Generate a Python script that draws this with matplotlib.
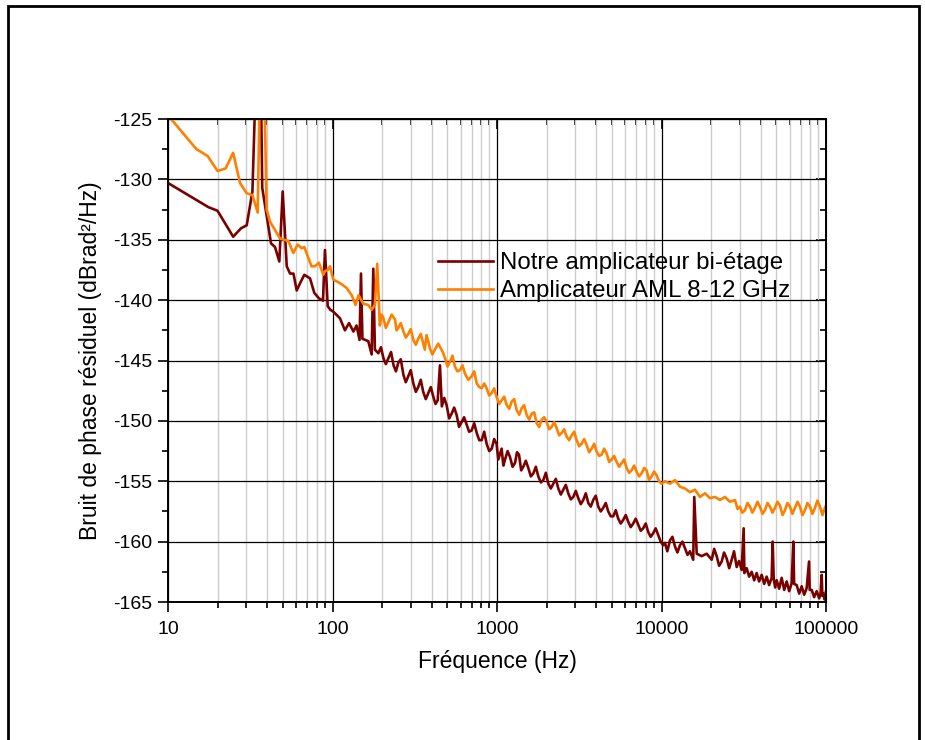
import matplotlib
matplotlib.use("Agg")
import matplotlib.pyplot as plt
import numpy as np
from matplotlib.patches import Rectangle
from matplotlib.ticker import FixedLocator, MultipleLocator, NullFormatter

# Notre amplicateur bi-étage (dark red)
freq_a = [10, 17.6, 20.0, 24.9, 27.8, 30.1, 32.6, 34.3, 36.6, 37.4, 42.3, 44.7, 47.5, 49.8,
          52.7, 55.2, 57.9, 60.6, 63.5, 67.4, 73.0, 77.5, 82.7, 87.5, 90.0, 93.5, 97, 101,
          111, 119, 126, 134, 140, 146, 149, 152, 165, 173, 177, 181, 190, 204, 219, 235,
          251, 270, 289, 310, 332, 356, 382, 410, 436, 450, 462, 494, 530, 568, 609, 654,
          701, 753, 807, 865, 929, 994, 1018, 1067, 1119, 1200, 1286, 1361, 1445, 1550,
          1663, 1783, 1913, 2051, 2199, 2359, 2529, 2712, 2909, 3119, 3346, 3588, 3847,
          4126, 4424, 4745, 5089, 5457, 5852, 6276, 6730, 7218, 7740, 8300, 8902, 9546,
          10240, 10500, 11260, 12080, 12950, 13890, 14900, 15590, 15820, 16370, 17550,
          18820, 20190, 20900, 21650, 22400, 23220, 24000, 24900, 25800, 26710, 27600,
          28640, 29600, 30720, 31580, 31900, 32940, 34100, 35330, 36600, 37890, 39200,
          40640, 42100, 43590, 45100, 46750, 47400, 48100, 49100, 50140, 51900, 53770,
          55700, 57670, 59700, 61850, 63300, 64000, 66340, 68700, 71150, 73700, 76310,
          78850, 79600, 81840, 84700, 87770, 90900, 92800, 94140, 95000, 96350, 98200,
          100000]
level_a = [-130.3, -132.3, -132.6, -134.75, -134.05, -133.8, -131.0, -121.0, -121.0, -130.7,
           -135.3, -135.6, -136.8, -131.0, -137.2, -137.8, -137.8, -139.2, -138.6, -137.9,
           -138.2, -139.4, -139.85, -140.05, -135.85, -140.5, -140.8, -140.95, -141.5,
           -142.5, -141.9, -142.6, -142.1, -143.3, -137.8, -143.2, -143.4, -144.5, -137.4,
           -144.1, -144.4, -144.8, -144.8, -145.4, -145.2, -146.2, -146.3, -146.9, -147.2,
           -147.6, -147.7, -148.0, -148.3, -145.4, -148.8, -148.7, -149.4, -149.5, -150.1,
           -150.3, -150.8, -151.0, -151.6, -151.9, -152.3, -151.9, -153.2, -152.3, -153.2,
           -153.0, -153.5, -152.8, -153.8, -153.9, -154.35, -154.6, -154.9, -155.2, -155.2,
           -155.6, -155.7, -156.0, -156.3, -156.4, -156.55, -156.8, -156.55, -157.1, -157.2,
           -157.5, -157.9, -158.1, -158.2, -158.35, -158.5, -158.6, -158.9, -159.2, -159.3,
           -159.45, -160.3, -160.1, -159.9, -160.4, -160.3, -160.55, -160.8, -161.5, -156.3,
           -161.0, -161.2, -161.0, -161.5, -160.6, -161.2, -162.0, -161.65, -160.9, -161.4,
           -162.2, -161.5, -160.8, -162.1, -161.6, -162.35, -158.9, -162.6, -162.2, -162.9,
           -162.5, -163.2, -162.6, -163.3, -162.75, -163.5, -162.9, -163.6, -163.0, -160.0,
           -163.1, -163.8, -163.2, -163.9, -163.0, -164.0, -163.3, -164.1, -163.45, -160.0,
           -163.5, -163.6, -164.3, -163.7, -164.4, -163.85, -161.65, -164.0, -164.0, -164.6,
           -164.1, -164.7, -164.2, -162.75, -164.5, -164.3, -164.8, -164.1]
# extra readings of the noise band edges (dark red, 190 Hz - 15 kHz)
freq_a_noise = [197, 211, 227, 243, 260, 279, 299, 321, 344, 369, 396, 423, 478, 512, 549,
                588, 631, 677, 727, 780, 836, 897, 961, 1093, 1160, 1243, 1323, 1403, 1497,
                1606, 1722, 1847, 1981, 2124, 2278, 2443, 2620, 2810, 3013, 3231, 3465, 3716,
                3984, 4273, 4583, 4915, 5270, 5652, 6061, 6500, 6972, 7475, 8016, 8596, 9218,
                9886, 10850, 11650, 12500, 13400, 14400]
level_a_noise = [-143.9, -145.3, -144.3, -145.9, -144.9, -146.8, -145.8, -147.6, -146.6,
                 -148.2, -147.2, -148.6, -148.1, -149.8, -148.9, -150.5, -149.7, -150.9,
                 -150.2, -151.6, -150.9, -152.5, -151.5, -153.7, -152.5, -153.8, -152.6,
                 -154.1, -153.3, -154.6, -153.8, -155.1, -154.3, -155.6, -154.8, -156.1,
                 -155.3, -156.5, -155.8, -156.9, -156.0, -157.1, -156.2, -157.5, -156.8,
                 -157.9, -157.4, -158.5, -157.8, -158.8, -158.1, -159.1, -158.5, -159.6,
                 -158.9, -160.0, -160.8, -159.6, -160.9, -160.0, -161.1]

# Amplicateur AML 8-12 GHz (orange)
freq_b = [10, 14.9, 17.4, 20.0, 22.4, 24.9, 27.4, 30.1, 32.6, 35.1, 36.3, 38.3, 39.8, 41.7,
          48.0, 53.9, 57.8, 61.4, 65.0, 67.4, 74.5, 78.1, 82.7, 87.9, 90, 93.5, 96.6, 101,
          108, 114, 122, 131, 138, 144, 154, 165, 173, 181, 187, 194, 204, 219, 240, 251,
          270, 289, 310, 332, 356, 373, 391, 419, 460, 483, 518, 555, 596, 639, 701, 753,
          807, 865, 929, 994, 1067, 1146, 1228, 1317, 1413, 1515, 1625, 1742, 1869, 2004,
          2149, 2305, 2472, 2651, 2843, 3049, 3270, 3507, 3761, 4033, 4325, 4638, 4974,
          5335, 5721, 6135, 6579, 7056, 7567, 8115, 8703, 9333, 10010, 10500, 11260, 12080,
          12950, 13890, 14900, 15980, 17140, 18380, 19710, 21140, 22670, 24310, 26070,
          27960, 29000, 29990, 31000, 32160, 33300, 34490, 35700, 36990, 38300, 39670,
          41100, 42550, 44100, 45640, 47300, 48950, 50700, 52490, 54400, 56300, 58300,
          60380, 62500, 64760, 67100, 69450, 71900, 74490, 77100, 79890, 82700, 85680,
          88700, 91890, 95200, 98550, 100000]
level_b = [-124.7, -127.5, -128.06, -129.3, -129.1, -127.8, -130.3, -131.15, -131.3, -132.75,
           -121.0, -121.0, -132.5, -133.5, -134.9, -135.1, -136.1, -135.4, -135.7, -135.6,
           -137.2, -137.2, -136.9, -137.9, -137.6, -137.5, -137.2, -138.3, -138.5, -138.7,
           -139.0, -139.6, -140.4, -139.6, -140.3, -140.4, -140.8, -140.4, -137.0, -142.1,
           -141.5, -141.8, -141.6, -142.3, -142.6, -142.8, -143.3, -143.2, -143.6, -142.9,
           -144.0, -144.1, -144.1, -144.8, -145.1, -145.5, -145.8, -146.1, -146.3, -146.9,
           -147.3, -147.3, -147.7, -148.0, -148.3, -148.7, -148.4, -149.1, -148.95, -149.5,
           -149.4, -150.2, -149.9, -150.1, -150.5, -150.6, -151.0, -151.3, -151.2, -151.6,
           -151.9, -152.0, -152.3, -152.55, -152.8, -152.7, -153.2, -153.4, -153.5, -153.9,
           -154.1, -154.2, -154.35, -154.1, -154.6, -154.5, -155.2, -155.0, -155.2, -154.9,
           -155.45, -155.6, -155.9, -155.7, -156.3, -156.0, -156.4, -156.3, -156.55, -156.3,
           -156.7, -156.55, -157.3, -157.1, -157.6, -157.4, -156.8, -157.1, -157.6, -157.2,
           -156.7, -157.1, -157.7, -157.4, -156.8, -157.1, -157.6, -157.2, -156.7, -157.0,
           -157.8, -157.4, -156.8, -157.1, -157.7, -157.2, -156.7, -157.1, -157.8, -157.4,
           -156.8, -157.1, -157.7, -157.2, -156.6, -157.1, -157.8, -157.2, -157.0]
# extra readings of the noise band edges (orange, 200 Hz - 10 kHz)
freq_b_noise = [199, 211, 229, 245, 260, 279, 299, 321, 344, 364, 382, 405, 439, 471, 500,
                536, 575, 617, 670, 727, 780, 836, 897, 961, 1030, 1106, 1187, 1272, 1365,
                1463, 1570, 1683, 1805, 1936, 2076, 2226, 2387, 2560, 2746, 2944, 3158, 3387,
                3632, 3895, 4177, 4480, 4805, 5152, 5525, 5925, 6354, 6815, 7308, 7837, 8404,
                9013, 9670]
level_b_noise = [-141.2, -142.3, -141.2, -142.5, -141.9, -143.1, -142.4, -143.7, -142.8,
                 -144.1, -143.4, -144.5, -143.6, -144.4, -145.5, -144.6, -145.9, -145.4,
                 -146.6, -145.9, -147.2, -146.9, -147.9, -147.3, -148.6, -148.0, -149.0,
                 -148.2, -149.5, -148.7, -149.9, -149.3, -150.5, -149.7, -150.7, -150.1,
                 -151.2, -150.7, -151.6, -150.9, -152.1, -151.5, -152.6, -151.9, -152.9,
                 -152.3, -153.4, -152.9, -153.8, -153.2, -154.3, -153.7, -154.6, -153.9,
                 -154.9, -154.2, -155.0]

label_a = "Notre amplicateur bi-étage"
label_b = "Amplicateur AML 8-12 GHz"
xtick_vals = [10, 100, 1000, 10000, 100000]
xtick_labels = ["10", "100", "1000", "10000", "100000"]
ytick_vals = [-165, -160, -155, -150, -145, -140, -135, -130, -125]


def merged(f, v, f_extra, v_extra):
    f_all = np.array(f + f_extra, dtype=float)
    v_all = np.array(v + v_extra, dtype=float)
    order = np.argsort(f_all, kind="stable")
    return f_all[order], v_all[order]


plt.rcParams["font.family"] = ["Liberation Sans", "DejaVu Sans"]
plt.rcParams["axes.unicode_minus"] = False

fig = plt.figure(figsize=(9.25, 7.4), dpi=100)
ax = fig.add_axes([168 / 925, 138 / 740, 658 / 925, 483 / 740])

# outer frame of the page
fig.patches.append(Rectangle((8 / 925, -0.1), 911 / 925, 1.092, transform=fig.transFigure,
                             fill=False, edgecolor="black", linewidth=2))

fa, la = merged(freq_a, level_a, freq_a_noise, level_a_noise)
fb, lb = merged(freq_b, level_b, freq_b_noise, level_b_noise)
ax.plot(fa, la, color="#7a0000", lw=1.9, label=label_a)
ax.plot(fb, lb, color="#ff8000", lw=1.9, label=label_b)

ax.set_xscale("log")
ax.set_xlim(10, 100000)
ax.set_ylim(-165, -125)

minor_x = [m * 10 ** d for d in range(1, 5) for m in range(2, 10)]
ax.xaxis.set_major_locator(FixedLocator(xtick_vals))
ax.set_xticklabels(xtick_labels)
ax.xaxis.set_minor_locator(FixedLocator(minor_x))
ax.xaxis.set_minor_formatter(NullFormatter())
ax.yaxis.set_major_locator(FixedLocator(ytick_vals))
ax.yaxis.set_minor_locator(MultipleLocator(2.5))

ax.grid(which="major", color="black", lw=0.9)
ax.xaxis.grid(which="minor", color="#cccccc", lw=1.0)
ax.set_axisbelow(True)

ax.tick_params(which="both", direction="out", width=1.2, labelsize=14)
ax.tick_params(which="major", length=7)
ax.tick_params(which="minor", length=4)
ax.tick_params(axis="x", pad=7)
ax.tick_params(axis="y", pad=4)
for s in ax.spines.values():
    s.set_linewidth(1.4)

# inward ticks on top and right
top = ax.secondary_xaxis("top")
top.xaxis.set_major_locator(FixedLocator(xtick_vals))
top.xaxis.set_minor_locator(FixedLocator(minor_x))
top.tick_params(which="both", direction="in", width=1.2, labeltop=False)
top.tick_params(which="major", length=7)
top.tick_params(which="minor", length=4)
right = ax.secondary_yaxis("right")
right.yaxis.set_major_locator(FixedLocator(ytick_vals))
right.yaxis.set_minor_locator(MultipleLocator(2.5))
right.tick_params(which="both", direction="in", width=1.2, labelright=False)
right.tick_params(which="major", length=7)
right.tick_params(which="minor", length=4)

ax.set_xlabel("Fréquence (Hz)", fontsize=16.5, labelpad=8)
ax.set_ylabel("Bruit de phase résiduel (dBrad²/Hz)", fontsize=16.5, labelpad=8)

ax.legend(loc="upper left", bbox_to_anchor=(0.41, 0.724), frameon=False, fontsize=17.3,
          handlelength=2.3, handletextpad=0.3, labelspacing=0.25, borderpad=0,
          borderaxespad=0)

fig.savefig("out.png", dpi=100)
